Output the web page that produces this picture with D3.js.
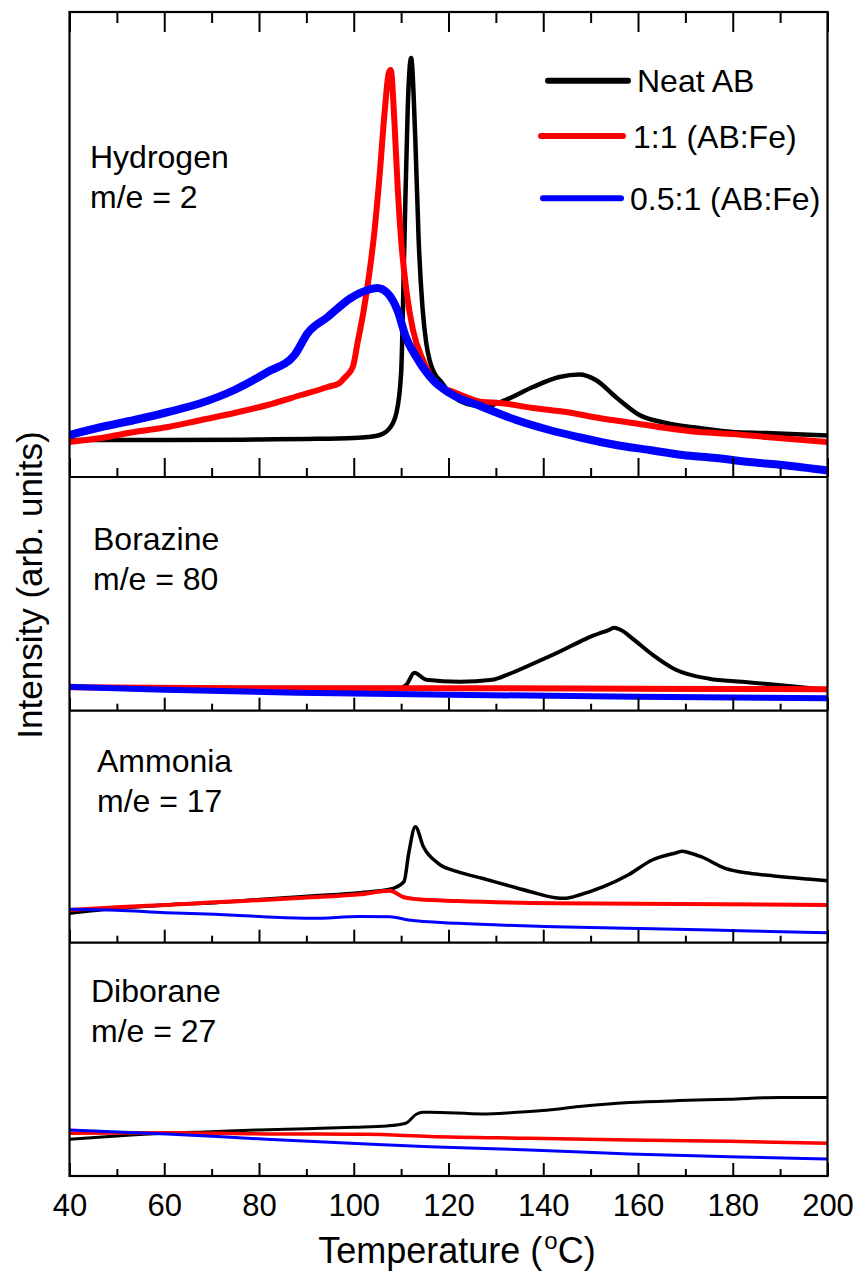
<!DOCTYPE html>
<html>
<head>
<meta charset="utf-8">
<script src="https://cdn.jsdelivr.net/npm/d3@7"></script>
<style>
  body { margin: 0; background: #fff; }
  text { font-family: "Liberation Sans", Arial, sans-serif; fill: #000; }
</style>
</head>
<body>
<div id="chart"></div>
<script>
// tick values of the temperature axis
var majorTicks = [40, 60, 80, 100, 120, 140, 160, 180, 200];
var minorTicks = [50, 70, 90, 110, 130, 150, 170, 190];

var seriesNames = ["Neat AB", "1:1 (AB:Fe)", "0.5:1 (AB:Fe)"];
var seriesColors = ["#000000", "#ff0000", "#0000ff"];

var panelNames = ["Hydrogen", "Borazine", "Ammonia", "Diborane"];
var panelMasses = ["m/e = 2", "m/e = 80", "m/e = 17", "m/e = 27"];
// top of each intensity axis (arb. units)
var panelMax = [465, 234, 232, 233];

// data: [temperature (C), intensity (arb. units)]
var h2Neat = [[40,37],[60,37],[80,37.5],[90,38],[100,39],[103,40],[105.5,42],[107.6,49],[109,64],[110,104],
  [110.7,237],[111.4,370],[112.1,419],[113,337],[113.7,237],[114.5,170],[115.3,134],[116,117],[117,104],
  [118.5,95],[120.2,84],[125,72],[128,71],[132,77],[137.8,90],[143.4,100],[147.6,102.5],[151.1,97],[155.3,80],
  [160.3,62],[165.9,54],[172.9,49],[179.9,45],[187,44],[200,41.5]];
var h2Fe1 = [[40,35],[46.7,39],[53.7,45],[60.8,50],[67.8,57],[74.8,64],[81.8,72],[88.9,82],[94.5,90],[97,94],
  [98,99],[99.8,110],[100.8,134],[102,164],[103.3,204],[104.4,247],[105.5,304],[106.5,364],[107.4,404],
  [107.8,407],[108.6,354],[109.3,287],[110,237],[111.1,187],[112.5,147],[114.6,117],[117.4,94],[121.6,84],
  [123.7,80],[127.2,75],[130.8,74],[137.8,69],[144.8,65],[151.8,59],[158.9,54],[165.9,49],[172.9,45],
  [179.9,43],[187,40],[200,35]];
var h2Fe05 = [[40,42],[46.7,50],[53.7,57],[60.8,65],[67.8,74],[74.8,87],[81.8,105],[87.5,122],[90.3,144],
  [94.5,160],[99.4,179],[102.9,187],[105,189],[107.1,184],[109.2,167],[111,140],[113.2,120],[116.7,97],
  [120.2,84],[127.2,70],[134.3,57],[141.3,47],[148.3,39],[155.4,32],[162.4,27],[169.4,22],[176.4,19],
  [183.5,15],[190.5,12],[200,6.5]];

var b3Neat = [[40,24],[80,23],[100,23],[110,23],[111.1,26],[112.8,38],[115.3,31],[122.3,29],[129.3,31],
  [132.9,37],[137.8,47],[143.4,59],[149,72],[153.9,81],[155,83],[156.3,81],[158.9,72],[163.1,56],[168,41],[175,32],
  [182,29],[189.1,26],[200,21]];
var b3Fe1 = [[40,23.5],[80,22.5],[120,22.5],[160,22],[200,21.5]];
var b3Fe05 = [[40,24],[60,21],[88,18],[120,16],[160,14],[200,12.5]];

var nh3Neat = [[40,29.4],[50,34.4],[60.3,37.7],[70.6,40],[80.9,43.4],[91.1,46.7],[101.4,50],[107.6,53.4],
  [110.6,61],[111.6,89.4],[113,116],[114.7,96],[117.8,79.4],[121.9,71],[127.1,64.4],[132.2,57.7],[137.3,51],
  [142.5,45],[144.5,44.4],[147.6,47.7],[152.7,56],[157.9,67.7],[163,82.7],[168.1,90],[169.3,91.5],[170.8,90],[173.3,86],
  [178.4,74.4],[183.6,69.4],[188.7,66.7],[200,62]];
var nh3Fe1 = [[40,32.7],[50,35.4],[60.3,37.7],[70.6,40.4],[80.9,42.7],[91.1,45.4],[101.4,48.4],[107.6,52],
  [110.6,45.4],[113.7,43.4],[121.9,41.7],[142.5,39.4],[200,37.7]];
var nh3Fe05 = [[40,33.4],[50,32.5],[60.3,30],[70.6,28.4],[80.9,26],[91.1,24.4],[101.4,26.2],[107.6,26],
  [111.6,22.7],[121.9,19.4],[142.5,16],[163,14],[183.6,11.7],[200,10]];

var b2h6Neat = [[40,36.7],[50,40],[60,42.7],[70,44.3],[80,46],[90,47.3],[100,48.7],[107,50],[111,52.7],
  [113.2,61.7],[114.6,63.7],[116,63.7],[127.2,62],[133.6,63.3],[139.9,65.3],[147.6,69.3],[158.2,73.3],
  [168.7,75.3],[179.2,76.7],[189.8,78.5],[200,78.3]];
var b2h6Fe1 = [[40,42.7],[60.5,43.3],[81.6,42],[102.7,41.7],[116,39.5],[137.1,37.7],[158.2,36],[179.2,34.7],[200,32.7]];
var b2h6Fe05 = [[40,46],[60.5,42],[81.6,36.7],[102.7,32],[116,29.3],[137.1,26],[158.2,22],[179.2,19.3],[200,17]];

var panelData = [
  [h2Neat, h2Fe1, h2Fe05],
  [b3Neat, b3Fe1, b3Fe05],
  [nh3Neat, nh3Fe1, nh3Fe05],
  [b2h6Neat, b2h6Fe1, b2h6Fe05]
];

// layout
var W = 859, H = 1274;
var left = 69.5, plotW = 758;
var panelTop = [12, 477, 710.7, 942.7];
var panelH = [465, 233.7, 232, 233.3];
var lineWidths = [[4.5, 6, 8], [4, 6, 6], [3.5, 4, 3], [3, 3.5, 3]];
var labelPos = [[90, 156], [93, 73], [97, 61], [91, 59]];

var svg = d3.select("#chart").append("svg")
  .attr("width", W).attr("height", H);

var x = d3.scaleLinear().domain([40, 200]).range([left, left + plotW]);

var line = d3.line().curve(d3.curveMonotoneX);

panelData.forEach(function(series, p) {
  var top = panelTop[p], h = panelH[p];
  var y = d3.scaleLinear().domain([0, panelMax[p]]).range([top + h, top]);

  svg.append("clipPath").attr("id", "clip" + p)
    .append("rect").attr("x", left).attr("y", top).attr("width", plotW).attr("height", h);

  var g = svg.append("g").attr("clip-path", "url(#clip" + p + ")");
  series.forEach(function(d, i) {
    g.append("path")
      .attr("d", line.x(function(v) { return x(v[0]); }).y(function(v) { return y(v[1]); })(d))
      .attr("fill", "none")
      .attr("stroke", seriesColors[i])
      .attr("stroke-width", lineWidths[p][i])
      .attr("stroke-linejoin", "round")
      .attr("stroke-linecap", "round");
  });

  // panel labels
  svg.append("text").attr("x", labelPos[p][0]).attr("y", top + labelPos[p][1])
    .attr("font-size", 32).text(panelNames[p]);
  svg.append("text").attr("x", labelPos[p][0]).attr("y", top + labelPos[p][1] + 40)
    .attr("font-size", 32).text(panelMasses[p]);

  // bottom ticks (inward)
  var big = p === 0 ? 19 : 13, small = p === 0 ? 9 : 7;
  var ax = svg.append("g").attr("transform", "translate(0," + (top + h) + ")")
    .call(d3.axisBottom(x).tickValues(majorTicks).tickSize(-big).tickPadding(18)
      .tickFormat(p === 3 ? d3.format("d") : ""));
  ax.select(".domain").remove();
  ax.selectAll("line").attr("stroke-width", 2);
  ax.selectAll("text").attr("font-size", 31).attr("font-family", "Liberation Sans, Arial, sans-serif");

  var axm = svg.append("g").attr("transform", "translate(0," + (top + h) + ")")
    .call(d3.axisBottom(x).tickValues(minorTicks).tickSize(-small).tickFormat(""));
  axm.select(".domain").remove();
  axm.selectAll("line").attr("stroke-width", 2);

  svg.append("line").attr("x1", left).attr("x2", left + plotW)
    .attr("y1", top + h).attr("y2", top + h)
    .attr("stroke", "#000").attr("stroke-width", 2.2);
});

// top axis of first panel
var at = svg.append("g").attr("transform", "translate(0," + panelTop[0] + ")")
  .call(d3.axisTop(x).tickValues(majorTicks).tickSize(-20).tickFormat(""));
at.select(".domain").remove();
at.selectAll("line").attr("stroke-width", 2);
var atm = svg.append("g").attr("transform", "translate(0," + panelTop[0] + ")")
  .call(d3.axisTop(x).tickValues(minorTicks).tickSize(-11).tickFormat(""));
atm.select(".domain").remove();
atm.selectAll("line").attr("stroke-width", 2);

// frame
var bottom = panelTop[3] + panelH[3];
svg.append("rect").attr("x", left).attr("y", panelTop[0])
  .attr("width", plotW).attr("height", bottom - panelTop[0])
  .attr("fill", "none").attr("stroke", "#000").attr("stroke-width", 2.2);

// legend
var legendRows = [[548, 628, 80.7, 637], [541, 623, 136, 633], [543, 621, 198.3, 630]];
seriesNames.forEach(function(name, i) {
  var r = legendRows[i];
  svg.append("line").attr("x1", r[0]).attr("x2", r[1]).attr("y1", r[2]).attr("y2", r[2])
    .attr("stroke", seriesColors[i]).attr("stroke-width", 6).attr("stroke-linecap", "round");
  svg.append("text").attr("x", r[3]).attr("y", r[2] + 11.5)
    .attr("font-size", 32).text(name);
});

// axis titles
var xt = svg.append("text").attr("x", 457).attr("y", 1263)
  .attr("text-anchor", "middle").attr("font-size", 36);
xt.append("tspan").text("Temperature (");
xt.append("tspan").attr("font-size", 24).attr("dy", -14).attr("dx", 2).text("o");
xt.append("tspan").attr("dy", 14).text("C)");

svg.append("text")
  .attr("transform", "translate(42," + 585 + ") rotate(-90)")
  .attr("text-anchor", "middle").attr("font-size", 35)
  .text("Intensity (arb. units)");
</script>
</body>
</html>
